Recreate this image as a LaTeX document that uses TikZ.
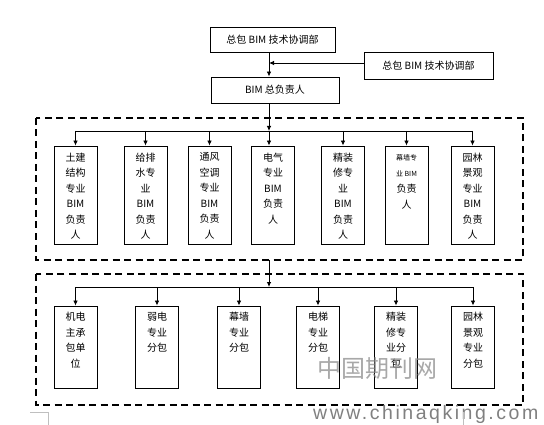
\documentclass[tikz,border=0pt]{standalone}
\usepackage{fontspec}
\setmainfont{Noto Sans CJK SC}
\newfontfamily\wmfont[LetterSpace=13]{Liberation Sans}
\usetikzlibrary{arrows.meta,calc}
\begin{document}
\begin{tikzpicture}[x=1pt,y=-1pt,
  box/.style={draw, line width=0.9pt, inner sep=0pt},
  txt/.style={align=center, inner sep=0pt, anchor=north, font=\fontsize{10}{15.5}\selectfont},
  conn/.style={line width=0.8pt, -{Latex[length=5pt,width=4.5pt]}},
  bus/.style={line width=0.8pt},
  zone/.style={draw, line width=1.8pt, dash pattern=on 7pt off 4.5pt},
  greymark/.style={draw=black!25, line width=0.8pt}]
\useasboundingbox (0,0) rectangle (544,425);
\fill[white] (0,0) rectangle (544,425);
\coordinate (vx) at (269,0);
% dashed zones
\draw[zone] (36,118) rectangle (523,260);
\draw[zone] (36,274) rectangle (523,405);
\coordinate (z1b) at (269,260);
% top boxes
\node[box, minimum width=125pt, minimum height=25pt, font=\fontsize{10}{12}\selectfont] (top) at (272.5,39.5) {总包 BIM 技术协调部};
\node[box, minimum width=129pt, minimum height=27pt, font=\fontsize{10}{12}\selectfont] (rbox) at (428.5,65.5) {总包 BIM 技术协调部};
\node[box, minimum width=128pt, minimum height=26pt, font=\fontsize{10}{12}\selectfont] (mgr) at (275,90) {BIM 总负责人};
\draw[conn] (top.south -| vx) -- (mgr.north -| vx);
\draw[conn] ([yshift=2.5pt]rbox.west) -- ([yshift=2.5pt]rbox.west -| vx);
% upper row
\foreach \n/\cx in {u1/75.5,u2/145.5,u3/209.5,u4/273,u5/343,u6/406.5,u7/472.5}{
  \node[box, minimum width=43pt, minimum height=98pt] (\n) at (\cx,195) {};
}
\coordinate (ub) at (0,131);
\draw[conn] (mgr.south -| vx) -- (ub -| vx);
\draw[bus] (ub -| u1.north) -- (ub -| u7.north);
\foreach \n in {u1,u2,u3,u5,u6,u7}{
  \draw[conn] (ub -| \n.north) -- (\n.north);
}
\draw[conn] (ub -| vx) -- (u4.north -| vx);
\node[txt] (u1t) at ($(u1.north)+(0,7)$) {土建\\结构\\专业\\BIM\\负责\\人};
\node[txt] (u2t) at ($(u2.north)+(0,7)$) {给排\\水专\\业\\BIM\\负责\\人};
\node[txt] (u3t) at ($(u3.north)+(0,7)$) {通风\\空调\\专业\\BIM\\负责\\人};
\node[txt] (u4t) at ($(u4.north)+(0,7)$) {电气\\专业\\BIM\\负责\\人};
\node[txt] (u5t) at ($(u5.north)+(0,7)$) {精装\\修专\\业\\BIM\\负责\\人};
\node[inner sep=0pt, font=\fontsize{7}{8}\selectfont] (u6a) at (406.5,157.5) {幕墙专};
\node[inner sep=0pt, font=\fontsize{7}{8}\selectfont] (u6b) at (406.5,174) {业 BIM};
\node[inner sep=0pt, font=\fontsize{10}{12}\selectfont] (u6c) at (406.5,189) {负责};
\node[inner sep=0pt, font=\fontsize{10}{12}\selectfont] (u6d) at (406.5,205) {人};
\node[txt] (u7t) at ($(u7.north)+(0,7)$) {园林\\景观\\专业\\BIM\\负责\\人};
% lower row
\foreach \n/\cx in {l1/75.5,l2/157,l3/239,l4/318,l5/396,l6/473}{
  \node[box, minimum width=43pt, minimum height=82pt] (\n) at (\cx,347) {};
}
\coordinate (lb) at (0,287);
\draw[conn] (z1b) -- (lb -| z1b);
\draw[bus] (lb -| l1.north) -- (lb -| l6.north);
\foreach \n in {l1,l2,l3,l4,l5,l6}{
  \draw[conn] (lb -| \n.north) -- (\n.north);
}
\node[txt] (l1t) at ($(l1.north)+(0,6.5)$) {机电\\主承\\包单\\位};
\node[txt] (l2t) at ($(l2.north)+(0,6.5)$) {弱电\\专业\\分包};
\node[txt] (l3t) at ($(l3.north)+(0,6.5)$) {幕墙\\专业\\分包};
\node[txt] (l4t) at ($(l4.north)+(0,6.5)$) {电梯\\专业\\分包};
\node[txt] (l5t) at ($(l5.north)+(0,6.5)$) {精装\\修专\\业分\\包};
\node[txt] (l6t) at ($(l6.north)+(0,6.5)$) {园林\\景观\\专业\\分包};
% watermark
\node[inner sep=0pt, text=black!45, opacity=0.75, font=\fontsize{24}{26}\selectfont] (wmcn) at (377,368) {中国期刊网};
\node[inner sep=0pt, anchor=base west, text=black!50, font=\wmfont\fontsize{19.5}{22}\selectfont] (wmurl) at (313,419) {www.chinaqking.com};
% small marks
\draw[greymark] (30,412) -- (48,412) -- (48,425);
\draw[greymark] (463,412) -- (463,425);
\end{tikzpicture}
\end{document}
